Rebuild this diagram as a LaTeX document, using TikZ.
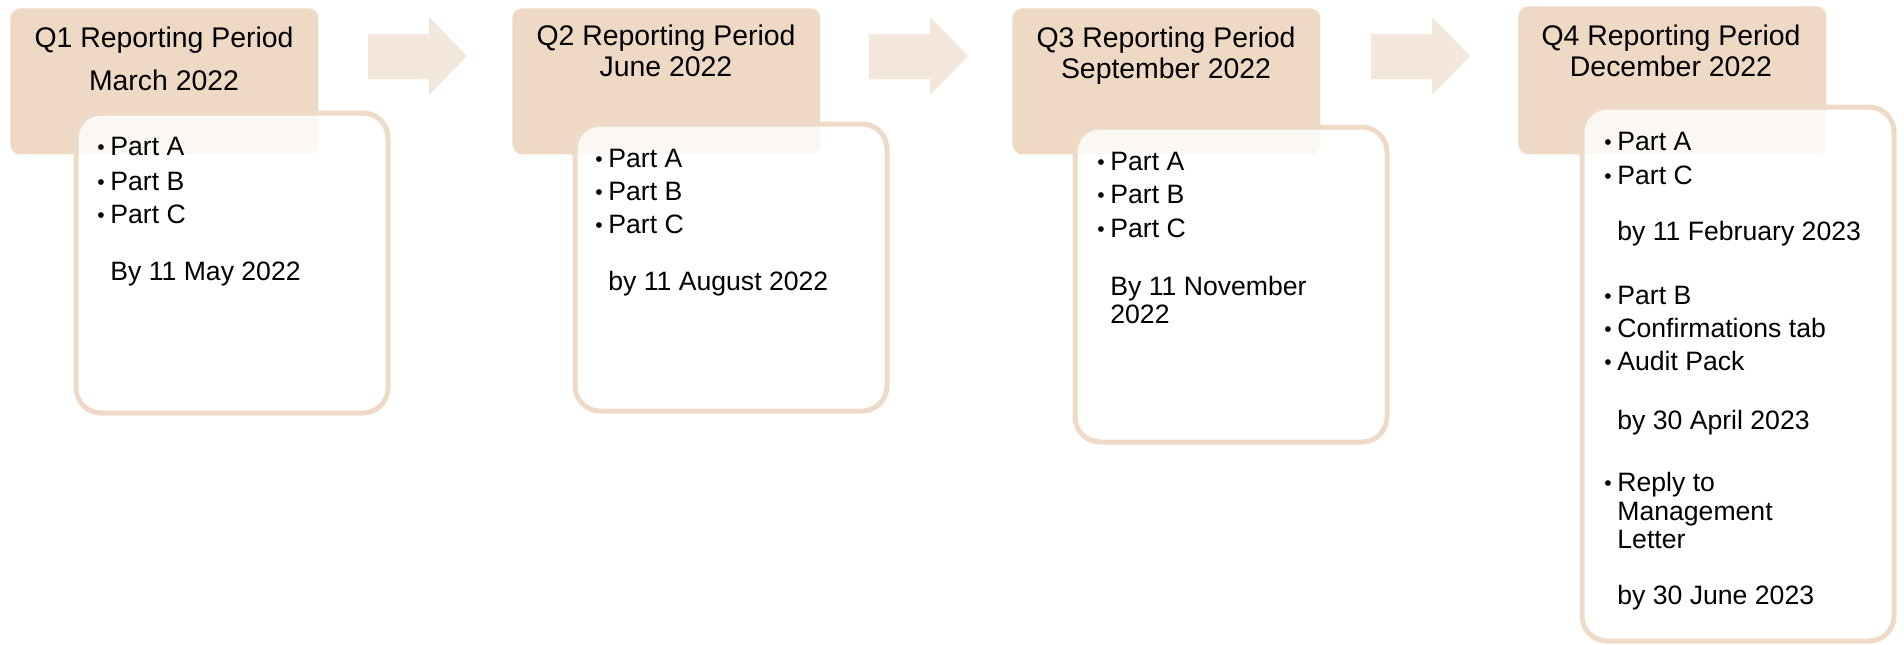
\documentclass[tikz,border=0pt]{standalone}
\usepackage{fontspec}
\setmainfont{Liberation Sans}
\definecolor{hdr}{HTML}{EDD9C4}
\definecolor{bord}{HTML}{EEDAC6}
\definecolor{arr}{HTML}{F3E7DB}
\newcommand\bul{\llap{\raisebox{0.4pt}{\fontsize{10.5}{10}\selectfont •}\hspace{2.8pt}}}
\begin{document}
\begin{tikzpicture}[x=0.5pt,y=-0.5pt,
  hdrbox/.style={fill=hdr, draw=none, rounded corners=5pt, anchor=north west, inner sep=0pt, minimum width=154pt, minimum height=73pt},
  card/.style={draw=bord, line width=2.5pt, fill=white, fill opacity=0.8, rounded corners=12.5pt, anchor=north west, inner sep=0pt, minimum width=156pt},
  ttl/.style={font=\fontsize{14.2}{17}\selectfont, anchor=base, inner sep=0pt},
  txt/.style={font=\fontsize{13.3}{16}\selectfont, anchor=base west, inner sep=0pt},
  blockarrow/.style={fill=arr, draw=none}]
\useasboundingbox (0,0) rectangle (1904,644);
% headers
\node[hdrbox] (h1) at (10,8) {};
\node[hdrbox] (h2) at (512,8) {};
\node[hdrbox] (h3) at (1012,8) {};
\node[hdrbox, minimum height=74pt] (h4) at (1518,6) {};
% block arrows
\fill[blockarrow] (368,34) -- (429,34) -- (429,17) -- (467,56) -- (429,95) -- (429,79) -- (368,79) -- cycle;
\fill[blockarrow] (869,34) -- (930,34) -- (930,17) -- (968,56) -- (930,95) -- (930,79) -- (869,79) -- cycle;
\fill[blockarrow] (1371,34) -- (1432,34) -- (1432,17) -- (1470,56) -- (1432,95) -- (1432,79) -- (1371,79) -- cycle;
% cards
\node[card, minimum height=150pt] (c1) at (73.5,110.5) {};
\node[card, minimum height=143.5pt] (c2) at (572.5,121.5) {};
\node[card, minimum height=157.5pt] (c3) at (1072.5,124.5) {};
\node[card, minimum height=267pt] (c4) at (1579.5,104.5) {};
% titles
\node[ttl] (t1a) at (164,47) {Q1 Reporting Period};
\node[ttl] (t1b) at (164,90) {March 2022};
\node[ttl] (t2a) at (666,45) {Q2 Reporting Period};
\node[ttl] (t2b) at (666,76) {June 2022};
\node[ttl] (t3a) at (1166,47) {Q3 Reporting Period};
\node[ttl] (t3b) at (1166,78) {September 2022};
\node[ttl] (t4a) at (1671,45) {Q4 Reporting Period};
\node[ttl] (t4b) at (1671,76) {December 2022};
% Q1 card text
\node[txt] (p1a) at (110,155) {\bul Part A};
\node[txt] (p1b) at (110,190) {\bul Part B};
\node[txt] (p1c) at (110,223) {\bul Part C};
\node[txt] (d1) at (110,280) {By 11 May 2022};
% Q2 card text
\node[txt] (p2a) at (608,167) {\bul Part A};
\node[txt] (p2b) at (608,200) {\bul Part B};
\node[txt] (p2c) at (608,233) {\bul Part C};
\node[txt] (d2) at (608,290) {by 11 August 2022};
% Q3 card text
\node[txt] (p3a) at (1110,170) {\bul Part A};
\node[txt] (p3b) at (1110,203) {\bul Part B};
\node[txt] (p3c) at (1110,237) {\bul Part C};
\node[txt] (d3a) at (1110,295) {By 11 November};
\node[txt] (d3b) at (1110,323) {2022};
% Q4 card text
\node[txt] (p4a) at (1617,150) {\bul Part A};
\node[txt] (p4c) at (1617,184) {\bul Part C};
\node[txt] (d4a) at (1617,240) {by 11 February 2023};
\node[txt] (p4b) at (1617,304) {\bul Part B};
\node[txt] (p4d) at (1617,337) {\bul Confirmations tab};
\node[txt] (p4e) at (1617,370) {\bul Audit Pack};
\node[txt] (d4b) at (1617,429) {by 30 April 2023};
\node[txt] (p4f) at (1617,491) {\bul Reply to};
\node[txt] (p4g) at (1617,520) {Management};
\node[txt] (p4h) at (1617,548) {Letter};
\node[txt] (d4c) at (1617,604) {by 30 June 2023};
\end{tikzpicture}
\end{document}
